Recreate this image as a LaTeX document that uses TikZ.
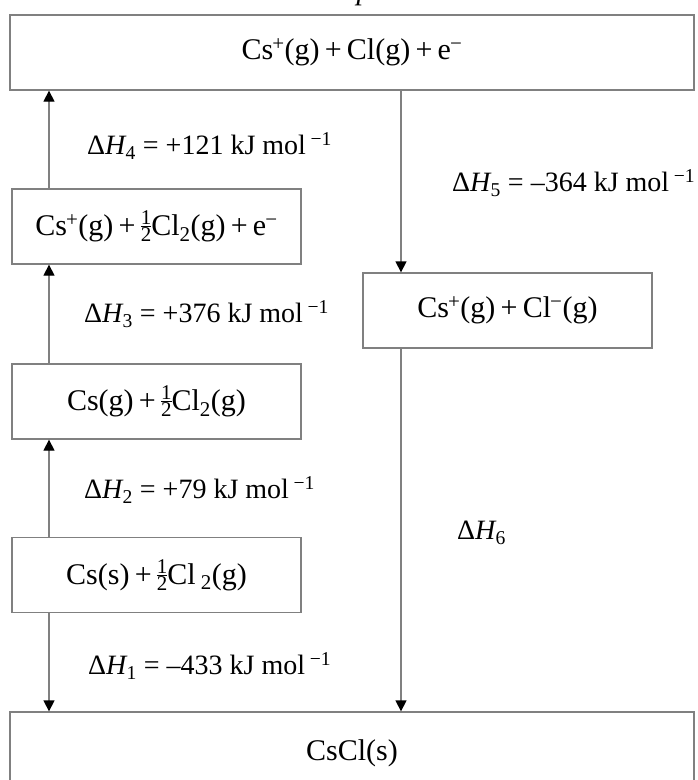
\documentclass[tikz,border=0pt]{standalone}
\usepackage{fontspec}
\setmainfont{Liberation Serif}[WordSpace=0.7]
\newfontfamily\labfont{Liberation Serif}
\usetikzlibrary{arrows.meta}
\newcommand{\hf}{\raisebox{-6pt}{\fontsize{21}{21}\selectfont\vbox{\hbox to 10.5pt{\hfil 1\hfil}\kern1.5pt\hrule height 0.5pt\kern1.5pt\hbox to 10.5pt{\hfil 2\hfil}}}}
\newcommand{\up}[1]{\kern-1pt\textsuperscript{#1}}
\newcommand{\dH}[1]{Δ\textit{H}\kern-1pt\textsubscript{#1}}
\newcommand{\permol}{kJ mol\,\textsuperscript{−1}}
\tikzset{
  lvl/.style={draw=black!50, line width=1.3pt, rectangle, inner sep=0pt,
    minimum height=75pt, font=\fontsize{30}{36}\selectfont},
  conn/.style={draw=black!50, line width=1.3pt,
    -{Triangle[width=11pt,length=11pt,color=black]}},
  lab/.style={anchor=west, inner sep=0pt, font=\labfont\fontsize{28}{34}\selectfont}
}
\begin{document}
\begin{tikzpicture}[x=1pt,y=-1pt]
\useasboundingbox (0,0) rectangle (697,780);
\fill[white] (0,0) rectangle (697,780);
% cut-off text at the very top
\node[anchor=base, inner sep=0pt, font=\fontsize{30}{36}\selectfont\itshape] (ptop) at (364,-1) {p};
% levels
\node[lvl, minimum width=684pt] (top) at (352,52.5) {Cs\up{+}(g) + Cl(g) + e\up{−}};
\node[lvl, minimum width=289pt] (b2) at (156.5,226.5) {Cs\up{+}(g) + \hf Cl\textsubscript{2}(g) + e\up{−}};
\node[lvl, minimum width=289pt] (ion) at (507.5,310.5) {Cs\up{+}(g) + Cl\up{−}(g)};
\node[lvl, minimum width=289pt] (b3) at (156.5,401.5) {Cs(g) + \hf Cl\textsubscript{2}(g)};
\node[lvl, minimum width=289pt] (b4) at (156.5,575) {Cs(s) + \hf Cl\,\textsubscript{2}(g)};
\node[lvl, minimum width=684pt, minimum height=82pt] (csc) at (352,753) {CsCl(s)};
% arrow columns
\coordinate (ax) at (49,0);
\coordinate (bx) at (401,0);
\draw[conn] (b2.north -| ax) -- (top.south -| ax);
\draw[conn] (b3.north -| ax) -- (b2.south -| ax);
\draw[conn] (b4.north -| ax) -- (b3.south -| ax);
\draw[conn] (b4.south -| ax) -- (csc.north -| ax);
\draw[conn] (top.south -| bx) -- (ion.north -| bx);
\draw[conn] (ion.south -| bx) -- (csc.north -| bx);
% labels
\node[lab] (l4) at (87,146) {\dH{4} = +121 \permol};
\node[lab] (l3) at (84,314) {\dH{3} = +376 \permol};
\node[lab] (l2) at (84,490) {\dH{2} = +79 \permol};
\node[lab] (l1) at (88,666) {\dH{1} = –433 \permol};
\node[lab] (l5) at (452,183) {\dH{5} = –364 \permol};
\node[lab] (l6) at (457,533) {\dH{6}};
\end{tikzpicture}
\end{document}
